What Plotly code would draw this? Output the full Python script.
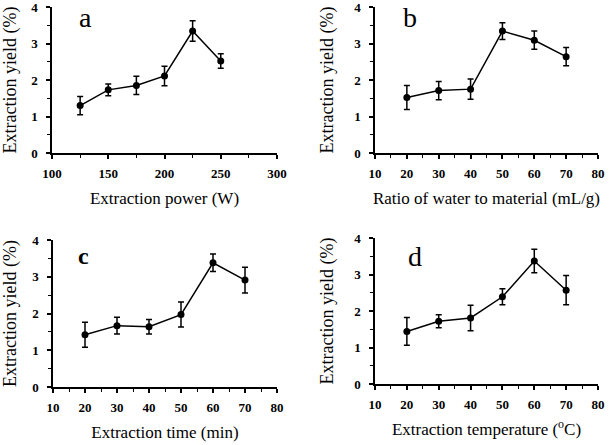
import plotly.graph_objects as go

# ---- data ----
power_w = [125, 150, 175, 200, 225, 250]
yield_power = [1.30, 1.73, 1.85, 2.11, 3.34, 2.52]
err_power = [0.25, 0.16, 0.25, 0.27, 0.28, 0.20]

ratio_mlg = [20, 30, 40, 50, 60, 70]
yield_ratio = [1.52, 1.71, 1.75, 3.34, 3.09, 2.64]
err_ratio = [0.33, 0.25, 0.28, 0.23, 0.25, 0.25]

time_min = [20, 30, 40, 50, 60, 70]
yield_time = [1.42, 1.67, 1.64, 1.97, 3.38, 2.91]
err_time = [0.34, 0.23, 0.20, 0.34, 0.24, 0.35]

temp_c = [20, 30, 40, 50, 60, 70]
yield_temp = [1.44, 1.72, 1.81, 2.39, 3.37, 2.57]
err_temp = [0.38, 0.18, 0.35, 0.22, 0.32, 0.40]

panel_letters = ["a", "b", "<b>c</b>", "d"]
x_titles = ["Extraction power (W)", "Ratio of water to material (mL/g)",
            "Extraction time (min)", "Extraction temperature (<sup>o</sup>C)"]
y_title = "Extraction yield (%)"

W, H = 614, 445
serif = "Liberation Serif"

panels = [
    (power_w, yield_power, err_power, [100, 300], 50, 25, (52, 277), (7, 153)),
    (ratio_mlg, yield_ratio, err_ratio, [10, 80], 10, 5, (375, 598), (7, 153)),
    (time_min, yield_time, err_time, [10, 80], 10, 5, (53, 277), (240, 387)),
    (temp_c, yield_temp, err_temp, [10, 80], 10, 5, (375, 598), (238, 384)),
]
letter_pos = [(0.147, 0.925), (0.157, 0.93), (0.134, 0.89), (0.18, 0.87)]
letter_size = [28, 28, 24, 28]

fig = go.Figure()
layout = {}
for i, (xs, ys, es, xr, dt, mdt, (x0, x1), (yt, yb)) in enumerate(panels):
    n = "" if i == 0 else str(i + 1)
    fig.add_trace(go.Scatter(
        x=xs, y=ys, mode="lines+markers",
        line=dict(color="black", width=1.5),
        marker=dict(color="black", size=7),
        error_y=dict(type="data", array=es, visible=True, color="black",
                     thickness=1.5, width=3),
        xaxis="x" + n, yaxis="y" + n, showlegend=False))
    layout["xaxis" + n] = dict(
        domain=[x0 / W, x1 / W], range=xr, anchor="y" + n, automargin=False,
        tick0=xr[0], dtick=dt, ticks="outside", ticklen=4, tickwidth=1.5,
        tickcolor="black", showline=True, linecolor="black", linewidth=1.5,
        showgrid=False, zeroline=False, ticklabeloverflow="allow", ticklabelstandoff=4,
        tickprefix="<b>", ticksuffix="</b>",
        minor=dict(dtick=mdt, ticks="outside", ticklen=3, tickwidth=1.2, tickcolor="black"),
        tickfont=dict(family=serif, size=13, color="black"),
        title=dict(text=x_titles[i], font=dict(family=serif, size=17, color="black"), standoff=12))
    layout["yaxis" + n] = dict(
        domain=[1 - yb / H, 1 - yt / H], range=[0, 4], anchor="x" + n, automargin=False,
        dtick=1, ticks="outside", ticklen=4, tickwidth=1.5, tickcolor="black",
        showline=True, linecolor="black", linewidth=1.5,
        showgrid=False, zeroline=False, ticklabeloverflow="allow", ticklabelstandoff=6,
        tickprefix="<b>", ticksuffix="</b>",
        minor=dict(dtick=0.5, ticks="outside", ticklen=3, tickwidth=1.2, tickcolor="black"),
        tickfont=dict(family=serif, size=13, color="black"),
        title=dict(text=y_title, font=dict(family=serif, size=18, color="black"), standoff=16))
    fig.add_annotation(
        text=panel_letters[i], xref=("x" + n) + " domain", yref=("y" + n) + " domain",
        x=letter_pos[i][0], y=letter_pos[i][1], showarrow=False,
        xanchor="center", yanchor="middle",
        font=dict(family=serif, size=letter_size[i], color="black"))

fig.update_layout(
    width=W, height=H, margin=dict(l=0, r=0, t=0, b=0),
    paper_bgcolor="white", plot_bgcolor="white", **layout)

fig.write_html("out.html", config={"displayModeBar": False},
               post_script="document.body.style.margin='0';")
